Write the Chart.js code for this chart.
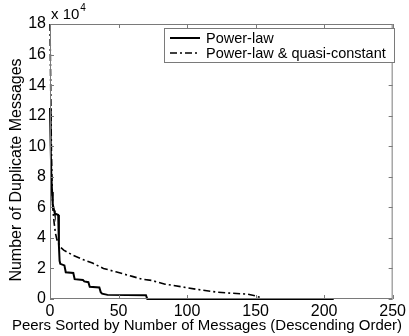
<!DOCTYPE html>
<html>
<head>
<meta charset="utf-8">
<script src="https://cdn.jsdelivr.net/npm/chart.js@4"></script>
<style>
  body { margin: 0; background: #fff; }
  canvas { display: block; }
</style>
</head>
<body>
<canvas id="chart" width="409" height="336"></canvas>
<script>
// values in units of 10^4 messages
const powerLawX = [0, 0.5, 1, 1.5, 2, 3, 3.5, 6, 6.5, 7, 7.5, 10.5, 11.5, 17, 18, 24, 25, 28, 29, 36, 37, 38, 42, 70, 71, 207];
const powerLawY = [12.5, 10, 8, 7, 6.2, 5.8, 5.6, 5.5, 3.5, 2.5, 2.3, 2.2, 1.75, 1.7, 1.3, 1.25, 1.15, 1.1, 0.8, 0.75, 0.45, 0.35, 0.27, 0.25, 0, 0];

const quasiX = [0, 0.5, 1, 1.5, 2, 3, 4, 5, 7, 10, 17, 25, 31, 39, 48, 60, 67, 74, 84, 96, 108, 122, 132, 144, 150, 154, 155];
const quasiY = [18, 14, 10, 7.5, 6, 5, 4.3, 3.9, 3.45, 3.2, 2.85, 2.55, 2.35, 2.0, 1.78, 1.48, 1.3, 1.22, 0.97, 0.8, 0.62, 0.45, 0.38, 0.32, 0.2, 0.08, 0];

const seriesLabels = ['Power-law', 'Power-law & quasi-constant'];
const xTicks = [0, 50, 100, 150, 200, 250];
const yTicks = [0, 2, 4, 6, 8, 10, 12, 14, 16, 18];
const xTitle = 'Peers Sorted by Number of Messages (Descending Order)';
const yTitle = 'Number of Duplicate Messages';

const FONT = 'Arial, "Liberation Sans", Helvetica, sans-serif';
const AXIS = '#7a7a7a';

function pts(xs, ys) {
  return xs.map((x, i) => ({ x: x, y: ys[i] }));
}

// box, inward ticks, axis titles, exponent label and boxed legend
const matlabLook = {
  id: 'matlabLook',
  afterDraw(chart) {
    const ctx = chart.ctx;
    const a = chart.chartArea;
    const xs = chart.scales.x, ys = chart.scales.y;
    ctx.save();
    ctx.strokeStyle = AXIS;
    ctx.lineWidth = 1;
    ctx.strokeRect(a.left + 0.5, a.top + 0.5, a.right - a.left - 1, a.bottom - a.top - 1);
    ctx.beginPath();
    xTicks.forEach(v => {
      const px = Math.round(xs.getPixelForValue(v)) + 0.5;
      ctx.moveTo(px, a.bottom); ctx.lineTo(px, a.bottom - 4);
      ctx.moveTo(px, a.top); ctx.lineTo(px, a.top + 4);
    });
    yTicks.forEach(v => {
      const py = Math.round(ys.getPixelForValue(v)) + 0.5;
      ctx.moveTo(a.left, py); ctx.lineTo(a.left + 4, py);
      ctx.moveTo(a.right, py); ctx.lineTo(a.right - 4, py);
    });
    ctx.stroke();

    // axis titles
    ctx.fillStyle = '#000';
    ctx.textAlign = 'center';
    ctx.textBaseline = 'middle';
    ctx.font = '15px ' + FONT;
    ctx.fillText(xTitle, 207, 326);
    ctx.font = '16px ' + FONT;
    ctx.save();
    ctx.translate(17, 170);
    ctx.rotate(-Math.PI / 2);
    ctx.fillText(yTitle, 0, 0);
    ctx.restore();

    // x 10^4
    ctx.textBaseline = 'alphabetic';
    ctx.textAlign = 'left';
    ctx.font = '15px ' + FONT;
    ctx.fillText('x 10', a.left + 1, a.top - 5);
    const w = ctx.measureText('x 10').width;
    ctx.font = '10px ' + FONT;
    ctx.fillText('4', a.left + 1 + w + 1, a.top - 13);

    // legend
    const lx = 164, ly = 28, lw = 230, lh = 34;
    ctx.fillStyle = '#fff';
    ctx.fillRect(lx + 0.5, ly + 0.5, lw, lh);
    ctx.strokeStyle = AXIS;
    ctx.lineWidth = 1;
    ctx.strokeRect(lx + 0.5, ly + 0.5, lw, lh);
    chart.data.datasets.forEach((ds, i) => {
      const cy = ly + 10 + i * 15;
      ctx.strokeStyle = ds.borderColor;
      ctx.lineWidth = ds.borderWidth;
      ctx.setLineDash(ds.borderDash || []);
      ctx.beginPath();
      ctx.moveTo(lx + 6, cy); ctx.lineTo(lx + 36, cy);
      ctx.stroke();
      ctx.setLineDash([]);
      ctx.fillStyle = '#000';
      ctx.font = '14.5px ' + FONT;
      ctx.textBaseline = 'middle';
      ctx.fillText(ds.label, lx + 42, cy + 1);
    });
    ctx.restore();
  }
};

new Chart(document.getElementById('chart'), {
  type: 'line',
  data: {
    datasets: [
      {
        label: seriesLabels[0],
        data: pts(powerLawX, powerLawY),
        borderColor: '#000',
        borderWidth: 2,
        pointRadius: 0,
        tension: 0,
        clip: false
      },
      {
        label: seriesLabels[1],
        data: pts(quasiX, quasiY),
        borderColor: '#000',
        borderWidth: 1.6,
        borderDash: [7, 3, 2, 3],
        pointRadius: 0,
        tension: 0,
        clip: false
      }
    ]
  },
  options: {
    responsive: false,
    animation: false,
    layout: { padding: { top: 24, right: 11, left: 0, bottom: 0 } },
    plugins: {
      legend: { display: false },
      tooltip: { enabled: false }
    },
    scales: {
      x: {
        type: 'linear',
        min: 0,
        max: 250,
        afterFit(scale) { scale.height = 37; },
        afterBuildTicks(scale) { scale.ticks = xTicks.map(v => ({ value: v })); },
        grid: { display: false, drawTicks: false },
        border: { display: false },
        ticks: { color: '#000', font: { family: FONT, size: 16 }, padding: 3, maxRotation: 0 }
      },
      y: {
        min: 0,
        max: 18,
        afterFit(scale) { scale.width = 50; },
        afterBuildTicks(scale) { scale.ticks = yTicks.map(v => ({ value: v })); },
        grid: { display: false, drawTicks: false },
        border: { display: false },
        ticks: { color: '#000', font: { family: FONT, size: 16 }, padding: 4 }
      }
    }
  },
  plugins: [matlabLook]
});
</script>
</body>
</html>
